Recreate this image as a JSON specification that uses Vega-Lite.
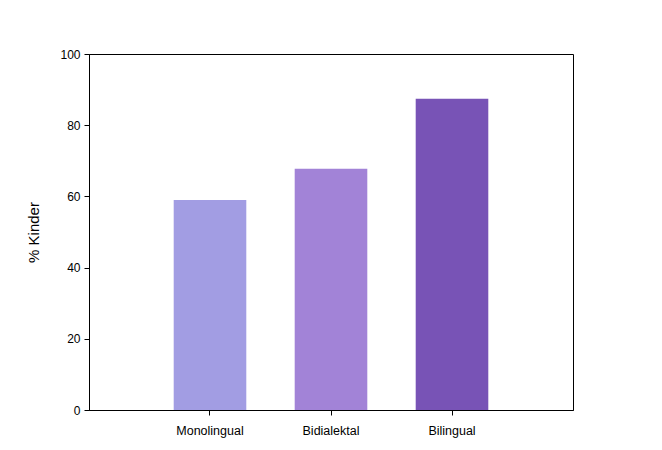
{
  "$schema": "https://vega.github.io/schema/vega-lite/v6.json",
  "autosize": "none",
  "width": 484,
  "height": 356,
  "padding": {"left": 89, "top": 54, "right": 89, "bottom": 40},
  "background": "white",
  "data": {
    "values": [
      {"Gruppe": "Monolingual", "Prozent": 59.0},
      {"Gruppe": "Bidialektal", "Prozent": 67.8},
      {"Gruppe": "Bilingual", "Prozent": 87.4}
    ]
  },
  "mark": {"type": "bar"},
  "encoding": {
    "x": {
      "field": "Gruppe",
      "type": "nominal",
      "sort": null,
      "title": null,
      "scale": {"paddingInner": 0.4, "paddingOuter": 0.7},
      "axis": {"labelAngle": 0, "labelPadding": 9, "tickSize": 5, "labelFontSize": 12.5}
    },
    "y": {
      "field": "Prozent",
      "type": "quantitative",
      "title": "% Kinder",
      "scale": {"domain": [0, 100], "nice": false},
      "axis": {"values": [0, 20, 40, 60, 80, 100], "grid": false, "tickSize": 5, "labelPadding": 4, "titlePadding": 18, "labelFontSize": 12}
    },
    "color": {
      "field": "Gruppe",
      "type": "nominal",
      "legend": null,
      "scale": {
        "domain": ["Monolingual", "Bidialektal", "Bilingual"],
        "range": ["#a29de3", "#a283d7", "#7853b6"]
      }
    }
  },
  "config": {
    "font": "Liberation Sans",
    "view": {"stroke": "black", "strokeWidth": 1},
    "axis": {
      "domainColor": "black",
      "tickColor": "black",
      "labelColor": "black",
      "titleColor": "black",
      "titleFontSize": 15,
      "titleFontWeight": "normal"
    }
  }
}
